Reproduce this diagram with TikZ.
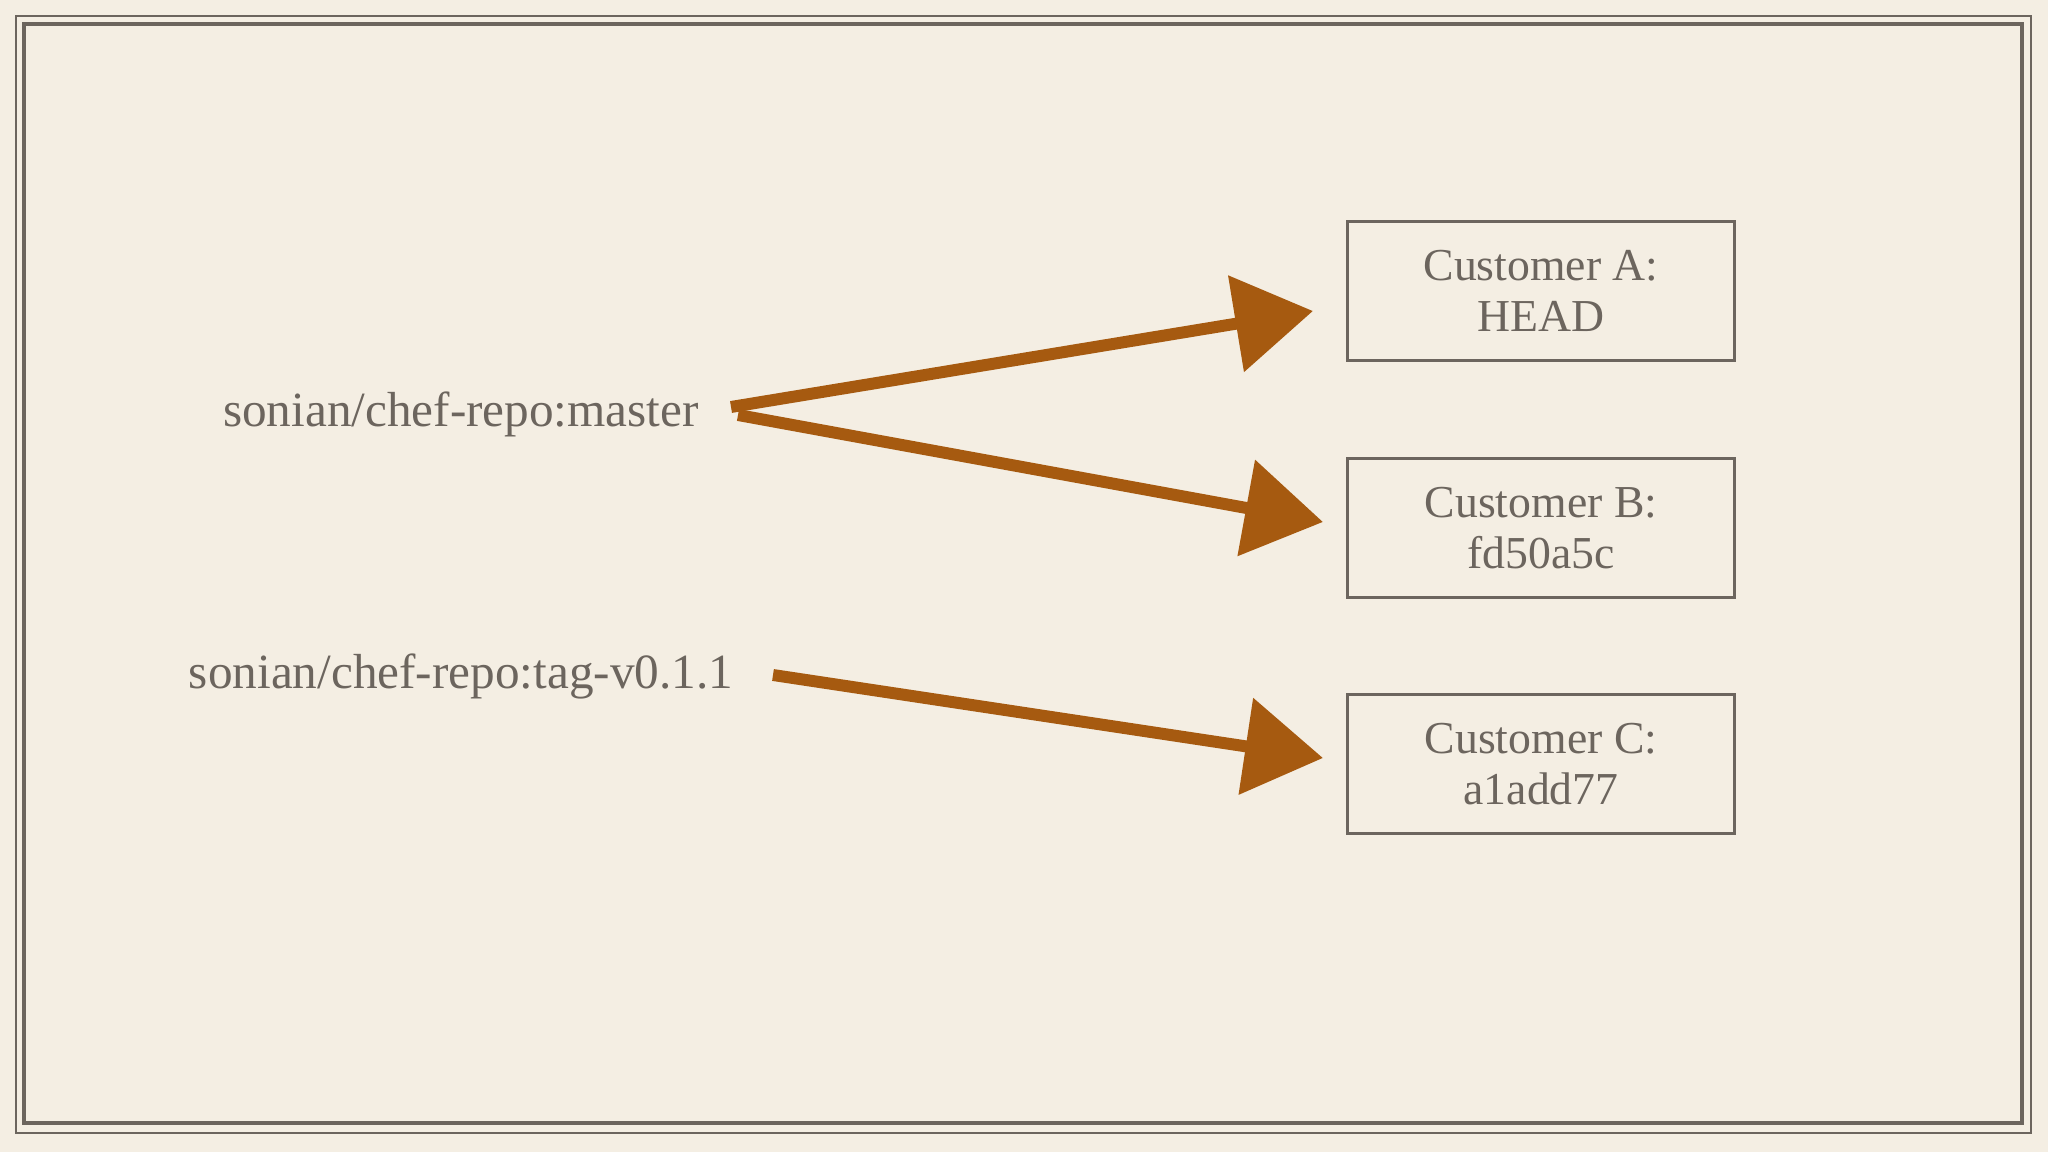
\documentclass[tikz,border=0pt]{standalone}
\usepackage{fontspec}
\setmainfont{Liberation Serif}
\usetikzlibrary{arrows.meta,positioning}

\definecolor{paper}{RGB}{244,238,227}
\definecolor{ink}{RGB}{108,101,94}
\definecolor{rust}{RGB}{166,90,16}

\tikzset{
	custbox/.style={draw=ink, line width=0.8pt, minimum width=3.87cm, minimum height=1.39cm,
		text=ink, align=center, font=\fontsize{13}{14.6}\selectfont},
	repolbl/.style={text=ink, font=\fontsize{14}{16}\selectfont},
	sketcharrow/.style={draw=rust, line width=3.4pt,
		-{Triangle[length=0.78cm, width=0.95cm]}},
}

\begin{document}
\begin{tikzpicture}[x=0.01cm, y=-0.01cm]
		% page and double frame
		\fill[paper] (0,0) rectangle (2048,1152);
		\useasboundingbox (0,0) rectangle (2048,1152);
		\draw[ink, line width=0.7pt] (16,16) rectangle (2031,1133);
		\draw[ink, line width=1.3pt] (24,24) rectangle (2022,1123);
		
		\node[repolbl] (master) at (461,414) {sonian/chef-repo:master};
		\node[repolbl] (tag)    at (461,676) {sonian/chef-repo:tag-v0.1.1};
		
		\node[custbox] (custA) at (1541,291) {Customer A:\\HEAD};
		\node[custbox] (custB) at (1541,528) {Customer B:\\fd50a5c};
		\node[custbox] (custC) at (1541,764) {Customer C:\\a1add77};
		
		% arrow ends
		\coordinate (outA) at (731,407);
		\coordinate (outB) at (738,415);
		\coordinate (outC) at (773,675);
		\coordinate (tipA) at (1313,311);
		\coordinate (tipB) at (1323,522);
		\coordinate (tipC) at (1323,758);
		
		\draw[sketcharrow] (outA) -- (tipA);
		\draw[sketcharrow] (outB) -- (tipB);
		\draw[sketcharrow] (outC) -- (tipC);
	\end{tikzpicture}
\end{document}
